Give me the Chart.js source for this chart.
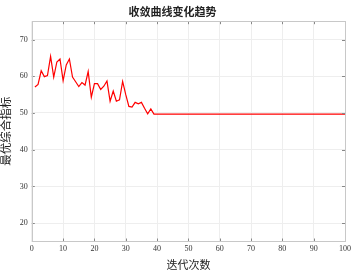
<!DOCTYPE html>
<html><head><meta charset="utf-8">
<script src="https://cdn.jsdelivr.net/npm/chart.js@4/dist/chart.umd.min.js"></script>
<style>html,body{margin:0;padding:0;background:#fff}#w{width:355px;height:276px}</style>
</head><body><div id="w"><canvas id="c"></canvas></div>
<script>
const titleText = '收敛曲线变化趋势';
const xTitle = '迭代次数';
const yTitle = '最优综合指标';
const earlyValues = [57.1,57.8,61.5,59.9,60.2,65.4,59.8,63.9,64.7,58.8,63.1,64.7,59.8,58.5,57.2,58.3,57.6,61.3,54.3,58.0,58.0,56.4,57.3,58.7,53.2,56.0,53.2,53.6,58.6,55.0,51.8,51.6,52.9,52.5,52.9,51.3,49.8,51.1,49.7];
const plateauValue = [49.7];
const totalIters = 100;
const yTicks = [20,30,40,50,60,70];
const xTicks = [0,10,20,30,40,50,60,70,80,90,100];

const pts = [];
for (let i = 1; i <= totalIters; i++) {
  const v = i <= earlyValues.length ? earlyValues[i-1] : plateauValue[0];
  pts.push({x:i, y:v});
}
const serif = "'Liberation Serif','Times New Roman','Noto Sans CJK SC',serif";

const innerTicks = {
  id:'innerTicks',
  afterDatasetsDraw(ch){
    const {ctx, chartArea:a, scales:{x,y}} = ch;
    ctx.save();
    ctx.strokeStyle = '#888'; ctx.lineWidth = 1;
    const L=3;
    xTicks.forEach(t=>{const px=Math.round(x.getPixelForValue(t))+0.5;
      ctx.beginPath();ctx.moveTo(px,a.bottom);ctx.lineTo(px,a.bottom-L);ctx.moveTo(px,a.top);ctx.lineTo(px,a.top+L);ctx.stroke();});
    yTicks.forEach(t=>{const py=Math.round(y.getPixelForValue(t))+0.5;
      ctx.beginPath();ctx.moveTo(a.left,py);ctx.lineTo(a.left+L,py);ctx.moveTo(a.right,py);ctx.lineTo(a.right-L,py);ctx.stroke();});
    ctx.strokeStyle='#c8c8c8'; ctx.lineWidth=1;
    ctx.strokeRect(Math.round(a.left)+0.5, Math.round(a.top)+0.5, Math.round(a.right-a.left), Math.round(a.bottom-a.top));
    ctx.restore();
  }
};

new Chart(document.getElementById('c'), {
  type:'line',
  data:{datasets:[{data:pts, borderColor:'#ff0000', borderWidth:1.2, pointRadius:0, tension:0, fill:false}]},
  options:{
    responsive:true, maintainAspectRatio:false, animation:false,
    layout:{padding:{left:0,right:10,top:0,bottom:0}},
    plugins:{legend:{display:false}, tooltip:{enabled:false},
      title:{display:true, text:titleText, color:'#222', font:{family:serif, size:11, weight:'bold'}, padding:{top:7,bottom:1}}},
    scales:{
      x:{type:'linear', min:0, max:100,
        afterBuildTicks(s){s.ticks = xTicks.map(v=>({value:v}));},
        grid:{color:'#eeeeee', drawTicks:false}, border:{display:false},
        ticks:{color:'#333', font:{family:serif, size:8}, padding:3, maxRotation:0},
        title:{display:true, text:xTitle, color:'#222', font:{family:serif, size:11}, padding:{top:2.3,bottom:3.4}}},
      y:{type:'linear', min:15, max:75,
        afterBuildTicks(s){s.ticks = yTicks.map(v=>({value:v}));},
        grid:{color:'#eeeeee', drawTicks:false}, border:{display:false},
        ticks:{color:'#333', font:{family:serif, size:8}, padding:4},
        title:{display:true, text:yTitle, color:'#222', font:{family:serif, size:11.5}, padding:{top:0,bottom:2}}}
    }
  },
  plugins:[innerTicks]
});
</script></body></html>
